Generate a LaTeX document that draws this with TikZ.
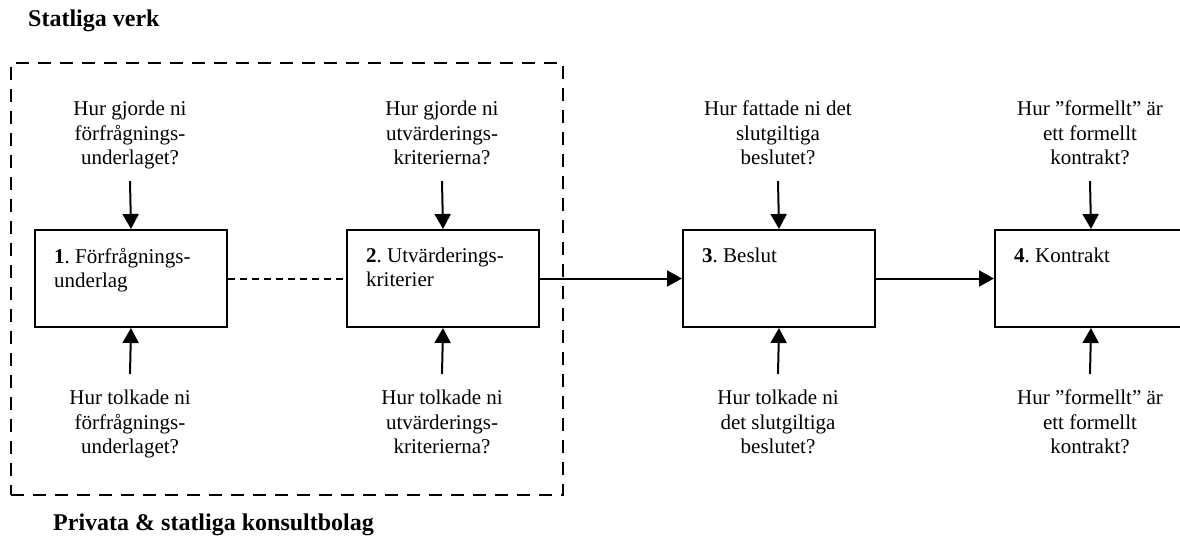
\documentclass[tikz,border=0pt]{standalone}
\usepackage{fontspec}
\setmainfont{Liberation Serif}
\usetikzlibrary{arrows.meta}

\begin{document}
\frenchspacing
\begin{tikzpicture}[x=1pt, y=-1pt,
  stepbox/.style={draw, line width=2pt, minimum width=192pt, minimum height=97pt,
                  inner sep=0pt, anchor=north west},
  grpbox/.style={draw, line width=2pt, dash pattern=on 13pt off 9pt,
                 minimum width=552pt, minimum height=432pt, inner sep=0pt, anchor=north west},
  qtext/.style={align=center, inner sep=0pt, anchor=north,
                font=\fontsize{21}{24.5}\selectfont},
  lbl/.style={align=left, inner sep=0pt, anchor=north west,
              font=\fontsize{21}{24}\selectfont},
  ttl/.style={inner sep=0pt, anchor=base west, font=\fontsize{24}{28}\selectfont\bfseries},
  arr/.style={line width=2pt, -{Triangle[length=15pt, width=16pt]}},
  link/.style={line width=2pt, dash pattern=on 7pt off 5pt}
]
\useasboundingbox (0,0) rectangle (1180,554);

% section titles
\node[ttl] (t1) at (28,27) {Statliga verk};
\node[ttl] (t2) at (53,530) {Privata \& statliga konsultbolag};

% dashed group around steps 1 and 2
\node[grpbox] (grp) at (10,62) {};

% process steps
\node[stepbox] (b1) at (34,229) {};
\node[stepbox] (b2) at (346,229) {};
\node[stepbox] (b3) at (682,229) {};
\node[stepbox] (b4) at (994,229) {};

\node[lbl] (l1) at (54,248) {\textbf{1}. Förfrågnings-\\underlag};
\node[lbl] (l2) at (366,248) {\textbf{2}. Utvärderings-\\kriterier};
\node[lbl] (l3) at (702,248) {\textbf{3}. Beslut};
\node[lbl] (l4) at (1014,248) {\textbf{4}. Kontrakt};

% questions above the steps
\node[qtext] (q1) at (130,101) {Hur gjorde ni\\förfrågnings-\\underlaget?};
\node[qtext] (q2) at (442,101) {Hur gjorde ni\\utvärderings-\\kriterierna?};
\node[qtext] (q3) at (778,101) {Hur fattade ni det\\slutgiltiga\\beslutet?};
\node[qtext] (q4) at (1090,101) {Hur ”formellt” är\\ett formellt\\kontrakt?};

% questions below the steps
\node[qtext] (p1) at (130,390) {Hur tolkade ni\\förfrågnings-\\underlaget?};
\node[qtext] (p2) at (442,390) {Hur tolkade ni\\utvärderings-\\kriterierna?};
\node[qtext] (p3) at (778,390) {Hur tolkade ni\\det slutgiltiga\\beslutet?};
\node[qtext] (p4) at (1090,390) {Hur ”formellt” är\\ett formellt\\kontrakt?};

% arrow start points between questions and steps
\coordinate (a1) at (130,181);
\coordinate (a2) at (442,181);
\coordinate (a3) at (778,181);
\coordinate (a4) at (1090,181);
\coordinate (c1) at (130,374);
\coordinate (c2) at (442,374);
\coordinate (c3) at (778,374);
\coordinate (c4) at (1090,374);

\draw[arr] (a1) -- (b1.north);
\draw[arr] (a2) -- (b2.north);
\draw[arr] (a3) -- (b3.north);
\draw[arr] (a4) -- (b4.north);
\draw[arr] (c1) -- (b1.south);
\draw[arr] (c2) -- (b2.south);
\draw[arr] (c3) -- (b3.south);
\draw[arr] (c4) -- (b4.south);

% flow between steps
\draw[link] (b1.east) -- (b2.west);
\draw[arr] (b2.east) -- (b3.west);
\draw[arr] (b3.east) -- (b4.west);
\end{tikzpicture}
\end{document}
